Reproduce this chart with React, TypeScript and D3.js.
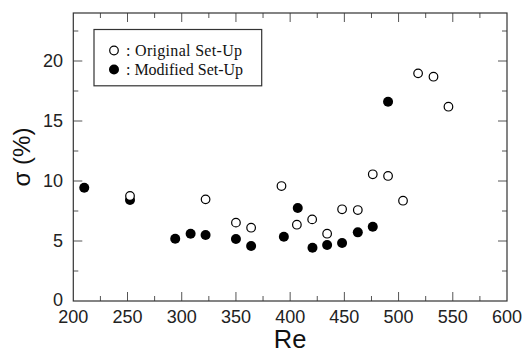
import React from "react";
import * as d3 from "d3";

const origRe = [252.3, 322, 350, 364, 392, 406.2, 420.3, 434.1, 447.9, 462.4, 476.2, 490.3, 504.1, 518, 532.2, 546];
const origSigma = [8.75, 8.47, 6.53, 6.11, 9.58, 6.36, 6.8, 5.61, 7.64, 7.58, 10.56, 10.42, 8.36, 18.97, 18.69, 16.19];
const modRe = [210.1, 252.3, 294, 308.2, 322, 350, 364, 394.2, 407, 420.6, 434.1, 447.9, 462.4, 476.2, 490.3];
const modSigma = [9.44, 8.42, 5.19, 5.61, 5.5, 5.17, 4.58, 5.36, 7.75, 4.44, 4.67, 4.83, 5.72, 6.19, 16.6];
const xTicks = [200, 250, 300, 350, 400, 450, 500, 550, 600];
const yTicks = [0, 5, 10, 15, 20];
const legendLabels = [": Original Set-Up", ": Modified Set-Up"];

const W = 527, H = 353;
const L = 73.3, R = 507, T = 13, B = 301;

export default function App() {
  const x = d3.scaleLinear().domain([200, 600]).range([L, R]);
  const y = d3.scaleLinear().domain([0, 24]).range([B, T]);
  const xMinor = d3.range(225, 600, 50);
  const yMinor = d3.range(2.5, 24, 5);
  const frame = "#333";
  const tickC = "#555";
  const sans = "'Liberation Sans', Arial, sans-serif";
  const serif = "'Liberation Serif', 'Times New Roman', serif";
  return (
    <svg width={W} height={H} style={{ position: "absolute", left: 0, top: 0, background: "#fff" }}>
      {xTicks.slice(1, -1).map((t) => (
        <g key={"xt" + t} stroke={tickC} strokeWidth={1}>
          <line x1={x(t)} x2={x(t)} y1={B} y2={B - 9} />
          <line x1={x(t)} x2={x(t)} y1={T} y2={T + 9} />
        </g>
      ))}
      {xMinor.map((t) => (
        <g key={"xm" + t} stroke={tickC} strokeWidth={1}>
          <line x1={x(t)} x2={x(t)} y1={B} y2={B - 5} />
          <line x1={x(t)} x2={x(t)} y1={T} y2={T + 5} />
        </g>
      ))}
      {yTicks.slice(1).map((t) => (
        <g key={"yt" + t} stroke={tickC} strokeWidth={1}>
          <line x1={L} x2={L + 9} y1={y(t)} y2={y(t)} />
          <line x1={R} x2={R - 9} y1={y(t)} y2={y(t)} />
        </g>
      ))}
      {yMinor.map((t) => (
        <g key={"ym" + t} stroke={tickC} strokeWidth={1}>
          <line x1={L} x2={L + 5} y1={y(t)} y2={y(t)} />
          <line x1={R} x2={R - 5} y1={y(t)} y2={y(t)} />
        </g>
      ))}
      <rect x={L} y={T} width={R - L} height={B - T} fill="none" stroke={frame} strokeWidth={1.2} />
      {xTicks.map((t) => (
        <text key={"xl" + t} x={x(t)} y={322.5} textAnchor="middle" fontFamily={sans} fontSize={18} fill="#222">
          {t}
        </text>
      ))}
      {yTicks.map((t) => (
        <text key={"yl" + t} x={63} y={y(t) - (t === 0 ? 1.5 : 0)} dy="0.35em" textAnchor="end" fontFamily={sans} fontSize={18} fill="#222">
          {t}
        </text>
      ))}
      <text x={(L + R) / 2} y={348.3} textAnchor="middle" fontFamily={sans} fontSize={25.5} fill="#111">Re</text>
      <text
        transform={`translate(30,${(T + B) / 2}) rotate(-90)`}
        textAnchor="middle"
        fontFamily={sans}
        fontSize={24}
        fill="#111"
      >
        σ (%)
      </text>
      {modRe.map((v, i) => (
        <circle key={"m" + i} cx={x(v)} cy={y(modSigma[i])} r={5} fill="#000" />
      ))}
      {origRe.map((v, i) => (
        <circle key={"o" + i} cx={x(v)} cy={y(origSigma[i])} r={4.3} fill="#fff" stroke="#000" strokeWidth={1.2} />
      ))}
      <rect x={94} y={29.5} width={167.7} height={56.3} fill="#fff" stroke={frame} strokeWidth={1.2} />
      <circle cx={114} cy={50.5} r={4.3} fill="#fff" stroke="#000" strokeWidth={1.2} />
      <circle cx={114} cy={69.5} r={5} fill="#000" />
      <text x={126} y={55.5} fontFamily={serif} fontSize={16} fill="#111" textLength={116} lengthAdjust="spacing">{legendLabels[0]}</text>
      <text x={126} y={74.5} fontFamily={serif} fontSize={16} fill="#111" textLength={117} lengthAdjust="spacing">{legendLabels[1]}</text>
    </svg>
  );
}
